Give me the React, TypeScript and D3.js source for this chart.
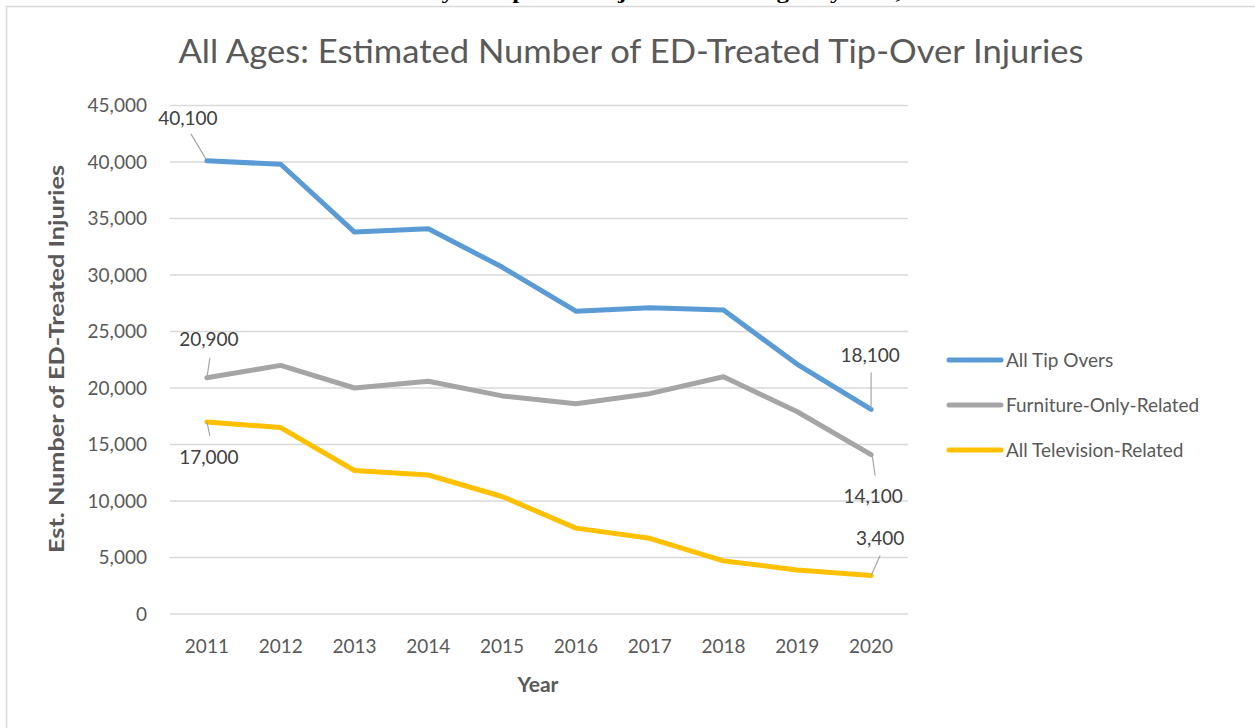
import React from "react";
import * as d3 from "d3";

const years = ["2011", "2012", "2013", "2014", "2015", "2016", "2017", "2018", "2019", "2020"];
const allTipOvers = [40100, 39800, 33800, 34100, 30700, 26800, 27100, 26900, 22100, 18100];
const furnitureOnly = [20900, 22000, 20000, 20600, 19300, 18600, 19500, 21000, 17900, 14100];
const allTelevision = [17000, 16500, 12700, 12300, 10400, 7600, 6700, 4700, 3900, 3400];
const yTicks = [0, 5000, 10000, 15000, 20000, 25000, 30000, 35000, 40000, 45000];
const seriesNames = ["All Tip Overs", "Furniture-Only-Related", "All Television-Related"];
const seriesColors = ["#5B9BD5", "#A5A5A5", "#FFC000"];

const chartTitle = "All Ages: Estimated Number of ED-Treated Tip-Over Injuries";
const docCaption = "Product Instability or Tip-Over Injuries for All Ages by Year, 2011 – 2020";
const yTitle = "Est. Number of ED-Treated Injuries";
const xTitle = "Year";

// data labels: series index, point index
const labelSeries = [0, 0, 1, 1, 2, 2];
const labelPoints = [0, 9, 0, 9, 0, 9];
// label text offsets and leader lines (relative to point)
const labelLayout = [
  { dx: -19, dy: -43, l1: [-1, -2], l2: [-16, -27] },
  { dx: -1, dy: -54, l1: [0, -1], l2: [0, -37] },
  { dx: 2, dy: -38, l1: [0, 0], l2: [3, -20] },
  { dx: 2, dy: 42, l1: [1, 0], l2: [4, 21] },
  { dx: 2, dy: 35, l1: [0, 0], l2: [3, 14] },
  { dx: 9, dy: -37, l1: [0, 0], l2: [9, -20] },
];

const FONT = "Lato, 'Open Sans', sans-serif";

export default function App() {
  const W = 1255, H = 728;
  const x = d3.scaleBand<string>().domain(years).range([170, 908]);
  const y = d3.scaleLinear().domain([0, 45000]).range([614, 105.5]);
  const cx = (i: number) => (x(years[i]) as number) + x.bandwidth() / 2;
  const fmt = d3.format(",");
  const series = [allTipOvers, furnitureOnly, allTelevision];
  const line = d3
    .line<number>()
    .x((_, i) => cx(i))
    .y((v) => y(v));

  return (
    <svg
      width={W}
      height={H}
      style={{ position: "absolute", left: 0, top: 0, background: "#fff" }}
      fontFamily={FONT}
    >
      <rect x={0} y={0} width={W} height={H} fill="#fff" />
      {/* clipped document caption */}
      <text
        x={642}
        y={-1}
        textAnchor="middle"
        fontFamily="'Liberation Serif', 'DejaVu Serif', serif"
        fontWeight="bold"
        fontSize={19}
        fill="#000"
        textLength={779}
        lengthAdjust="spacingAndGlyphs"
      >
        {docCaption}
      </text>
      {/* chart area border */}
      <path d={`M6.5,${H} V6.5 H${W}`} fill="none" stroke="#d9d9d9" strokeWidth={1.5} />

      <text
        x={631}
        y={63}
        textAnchor="middle"
        fontSize={32}
        fill="#595959"
        textLength={905}
        lengthAdjust="spacingAndGlyphs"
      >
        {chartTitle}
      </text>

      {/* gridlines */}
      {yTicks.map((t) => (
        <line key={t} x1={170} x2={908} y1={y(t)} y2={y(t)} stroke="#d9d9d9" strokeWidth={1.5} />
      ))}
      {/* y tick labels */}
      {yTicks.map((t) => (
        <text key={"l" + t} x={147} y={y(t)} dy="0.35em" textAnchor="end" fontSize={19} fill="#595959">
          {fmt(t)}
        </text>
      ))}
      {/* x tick labels */}
      {years.map((yr, i) => (
        <text key={yr} x={cx(i)} y={646} dy="0.35em" textAnchor="middle" fontSize={19} fill="#595959">
          {yr}
        </text>
      ))}
      <text x={538} y={685} dy="0.35em" textAnchor="middle" fontSize={21} fontWeight="bold" fill="#595959">
        {xTitle}
      </text>
      <text
        transform={`translate(57,359) rotate(-90)`}
        textAnchor="middle"
        dy="0.35em"
        fontSize={21}
        fontWeight="bold"
        fill="#595959"
        textLength={388}
        lengthAdjust="spacingAndGlyphs"
      >
        {yTitle}
      </text>

      {/* lines */}
      {series.map((s, k) => (
        <path
          key={k}
          d={line(s) as string}
          fill="none"
          stroke={seriesColors[k]}
          strokeWidth={5}
          strokeLinejoin="round"
          strokeLinecap="round"
        />
      ))}

      {/* data labels */}
      {labelSeries.map((sk, j) => {
        const pi = labelPoints[j];
        const px = cx(pi);
        const py = y(series[sk][pi]);
        const L = labelLayout[j];
        return (
          <g key={"dl" + j}>
            <line
              x1={px + L.l1[0]}
              y1={py + L.l1[1]}
              x2={px + L.l2[0]}
              y2={py + L.l2[1]}
              stroke="#a6a6a6"
              strokeWidth={1.2}
            />
            <text x={px + L.dx} y={py + L.dy} dy="0.35em" textAnchor="middle" fontSize={19} fill="#404040">
              {fmt(series[sk][pi])}
            </text>
          </g>
        );
      })}

      {/* legend */}
      {seriesNames.map((n, k) => (
        <g key={n} transform={`translate(0,${360 + k * 45})`}>
          <line x1={949} x2={1001} y1={0} y2={0} stroke={seriesColors[k]} strokeWidth={5} strokeLinecap="round" />
          <text x={1006} y={0} dy="0.35em" fontSize={19} fill="#595959">
            {n}
          </text>
        </g>
      ))}
    </svg>
  );
}
